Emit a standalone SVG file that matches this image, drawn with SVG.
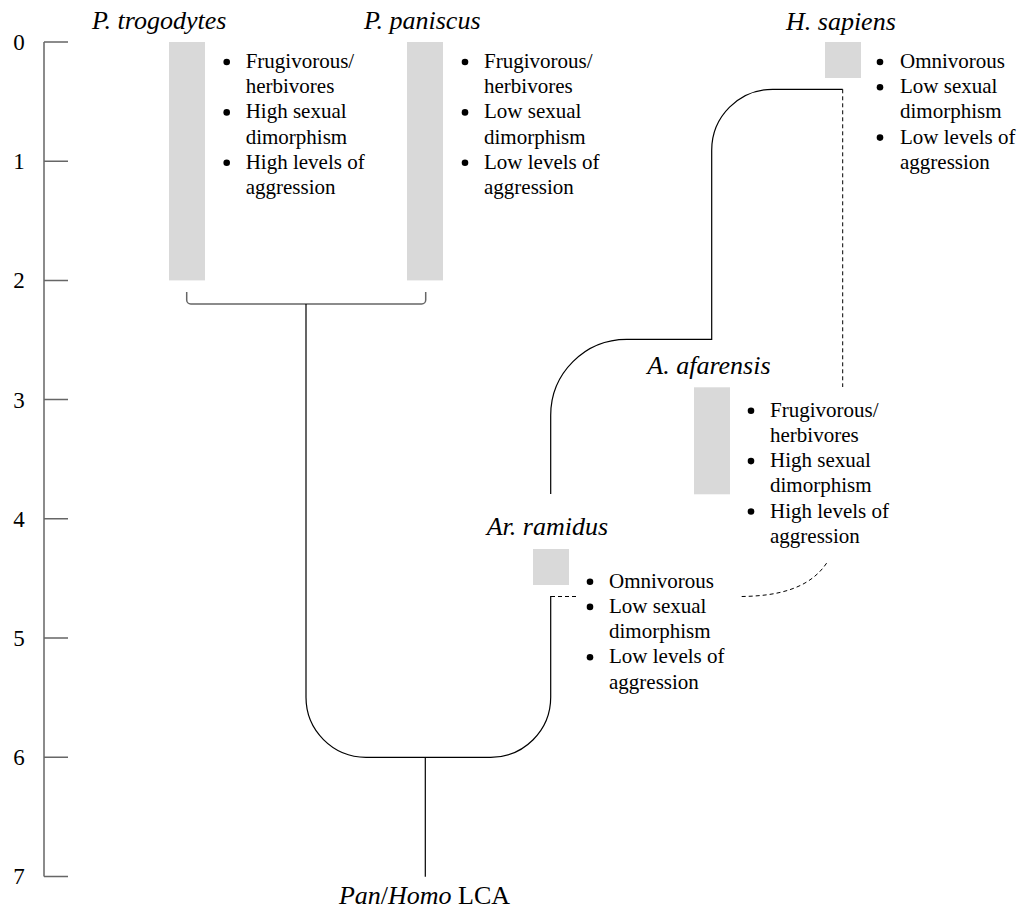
<svg xmlns="http://www.w3.org/2000/svg" width="1020" height="910" viewBox="0 0 1020 910" font-family="Liberation Serif, Times New Roman, serif">
<style>
text{fill:#000}
.lab{font-size:26px;font-style:italic}
.tk{font-size:23px;text-anchor:middle}
.bl{font-size:21px}
.bar{fill:#d9d9d9}
.dot{fill:#000}
.ln{fill:none;stroke:#000;stroke-width:1.2}
.ax{fill:none;stroke:#666;stroke-width:1.5}
.dash{fill:none;stroke:#000;stroke-width:1;stroke-dasharray:4 3}
</style>
<rect width="1020" height="910" fill="#fff"/>
<g id="axis">
<path class="ax" d="M44,42 V876.4 M44,42 H68 M44,161.2 H68 M44,280.4 H68 M44,399.6 H68 M44,518.8 H68 M44,638 H68 M44,757.2 H68 M44,876.4 H68"/>
<text class="tk" x="19" y="50">0</text>
<text class="tk" x="19" y="169.2">1</text>
<text class="tk" x="19" y="288.4">2</text>
<text class="tk" x="19" y="407.6">3</text>
<text class="tk" x="19" y="526.8">4</text>
<text class="tk" x="19" y="646">5</text>
<text class="tk" x="19" y="765.2">6</text>
<text class="tk" x="19" y="884.4">7</text>
</g>
<g id="connectors">
<path class="ax" d="M186.7,292 V300 A4,4 0 0 0 190.7,304 H421.7 A4,4 0 0 0 425.7,300 V292"/>
<path class="ln" d="M306,304 V697 A60,60 0 0 0 366,757.3 H490.7 A60,60 0 0 0 550.7,697.3 V596"/>
<path class="ln" d="M425.3,757.3 V876.7"/>
<path class="ln" d="M550.7,494 V415.3 A76,76 0 0 1 626.7,339.3 H711.7 V150.3 A61,61 0 0 1 772.7,89.3 H842.7"/>
<path class="dash" d="M842.7,89.3 V387"/>
<path class="dash" d="M551,596.5 H576"/>
<path class="dash" d="M741.7,596.5 C775,596 810,590 828,561"/>
</g>
<g id="p-trogodytes">
<text class="lab" x="92" y="29">P. trogodytes</text>
<rect class="bar" x="169" y="42" width="36" height="238.4"/>
<circle class="dot" cx="226.7" cy="62" r="3.3"/>
<circle class="dot" cx="226.7" cy="112.4" r="3.3"/>
<circle class="dot" cx="226.7" cy="162.8" r="3.3"/>
<text class="bl" x="245.7" y="68">Frugivorous/</text>
<text class="bl" x="245.7" y="93.2">herbivores</text>
<text class="bl" x="245.7" y="118.4">High sexual</text>
<text class="bl" x="245.7" y="143.6">dimorphism</text>
<text class="bl" x="245.7" y="168.8">High levels of</text>
<text class="bl" x="245.7" y="194">aggression</text>
</g>
<g id="p-paniscus">
<text class="lab" x="364" y="29">P. paniscus</text>
<rect class="bar" x="407" y="42" width="36" height="238.4"/>
<circle class="dot" cx="465" cy="62" r="3.3"/>
<circle class="dot" cx="465" cy="112.4" r="3.3"/>
<circle class="dot" cx="465" cy="162.8" r="3.3"/>
<text class="bl" x="484" y="68">Frugivorous/</text>
<text class="bl" x="484" y="93.2">herbivores</text>
<text class="bl" x="484" y="118.4">Low sexual</text>
<text class="bl" x="484" y="143.6">dimorphism</text>
<text class="bl" x="484" y="168.8">Low levels of</text>
<text class="bl" x="484" y="194">aggression</text>
</g>
<g id="h-sapiens">
<text class="lab" x="786" y="29.5">H. sapiens</text>
<rect class="bar" x="825" y="42" width="36" height="36"/>
<circle class="dot" cx="880" cy="62" r="3.3"/>
<circle class="dot" cx="880" cy="87.2" r="3.3"/>
<circle class="dot" cx="880" cy="137.6" r="3.3"/>
<text class="bl" x="900" y="68">Omnivorous</text>
<text class="bl" x="900" y="93.2">Low sexual</text>
<text class="bl" x="900" y="118.4">dimorphism</text>
<text class="bl" x="900" y="143.6">Low levels of</text>
<text class="bl" x="900" y="168.8">aggression</text>
</g>
<g id="a-afarensis">
<text class="lab" x="647.3" y="374.3">A. afarensis</text>
<rect class="bar" x="694" y="387.3" width="36" height="107"/>
<circle class="dot" cx="751" cy="410.7" r="3.3"/>
<circle class="dot" cx="751" cy="461.1" r="3.3"/>
<circle class="dot" cx="751" cy="511.5" r="3.3"/>
<text class="bl" x="770" y="416.7">Frugivorous/</text>
<text class="bl" x="770" y="441.9">herbivores</text>
<text class="bl" x="770" y="467.1">High sexual</text>
<text class="bl" x="770" y="492.3">dimorphism</text>
<text class="bl" x="770" y="517.5">High levels of</text>
<text class="bl" x="770" y="542.7">aggression</text>
</g>
<g id="ar-ramidus">
<text class="lab" x="486.7" y="535">Ar. ramidus</text>
<rect class="bar" x="533" y="549" width="36" height="36"/>
<circle class="dot" cx="590" cy="581.7" r="3.3"/>
<circle class="dot" cx="590" cy="606.9" r="3.3"/>
<circle class="dot" cx="590" cy="657.3" r="3.3"/>
<text class="bl" x="609" y="587.7">Omnivorous</text>
<text class="bl" x="609" y="612.9">Low sexual</text>
<text class="bl" x="609" y="638.1">dimorphism</text>
<text class="bl" x="609" y="663.3">Low levels of</text>
<text class="bl" x="609" y="688.5">aggression</text>
</g>
<g id="lca">
<text x="424.5" y="904" font-size="26" text-anchor="middle"><tspan font-style="italic">Pan</tspan>/<tspan font-style="italic">Homo</tspan> LCA</text>
</g>
</svg>
